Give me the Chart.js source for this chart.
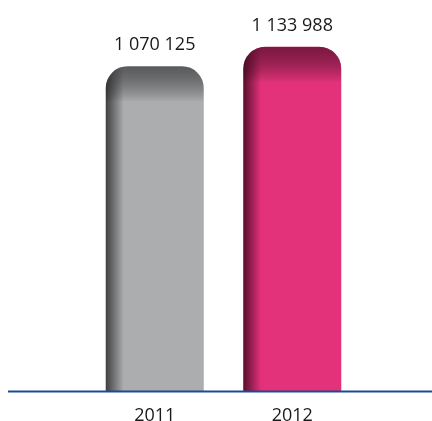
<!DOCTYPE html>
<html>
<head>
<meta charset="utf-8">
<script src="https://cdn.jsdelivr.net/npm/chart.js@4"></script>
<style>
  html, body { margin: 0; padding: 0; background: #fff; }
  #wrap { width: 432px; height: 421px; }
</style>
</head>
<body>
<div id="wrap"><canvas id="chart"></canvas></div>
<script>
const years = ['2011', '2012'];
const values = [1070125, 1133988];
const labels = ['1 070 125', '1 133 988'];
const mainColors = ['#acadaf', '#e3327a'];
const darkColors = ['#3f3f41', '#5a0f2e'];
const barPct = 0.713;

// horizontal shading on the left side of each bar
function barFill(context) {
    const chart = context.chart;
    const xs = chart.scales.x;
    const i = context.dataIndex;
    if (!xs || i === undefined) return mainColors[0];
    const step = xs.getPixelForValue(1) - xs.getPixelForValue(0);
    const left = xs.getPixelForValue(i) - step * barPct / 2;
    if (!isFinite(left) || !isFinite(step)) return mainColors[i];
    const g = chart.ctx.createLinearGradient(left, 0, left + 18, 0);
    g.addColorStop(0, darkColors[i]);
    g.addColorStop(1, mainColors[i]);
    return g;
}

// darken the top of each bar and write the value above it
const barDecor = {
    id: 'barDecor',
    afterDatasetsDraw(chart) {
        const ctx = chart.ctx;
        chart.getDatasetMeta(0).data.forEach((el, i) => {
            const left = el.x - el.width / 2;
            const top = el.y;
            const r = 22;
            ctx.save();
            ctx.beginPath();
            ctx.moveTo(left, el.base);
            ctx.lineTo(left, top + r);
            ctx.arcTo(left, top, left + r, top, r);
            ctx.lineTo(left + el.width - r, top);
            ctx.arcTo(left + el.width, top, left + el.width, top + r, r);
            ctx.lineTo(left + el.width, el.base);
            ctx.closePath();
            ctx.clip();
            const g = ctx.createLinearGradient(0, top, 0, top + 36);
            g.addColorStop(0, darkColors[i]);
            g.addColorStop(1, 'rgba(0,0,0,0)');
            ctx.globalAlpha = 0.75;
            ctx.fillStyle = g;
            ctx.fillRect(left, top, el.width, 36);
            ctx.restore();

            ctx.save();
            ctx.fillStyle = '#1a1a1a';
            ctx.font = '18px "Open Sans"';
            ctx.textAlign = 'center';
            ctx.textBaseline = 'bottom';
            ctx.fillText(labels[i], el.x, top - 12);
            ctx.restore();
        });
        // baseline
        const y = chart.chartArea.bottom;
        ctx.save();
        ctx.strokeStyle = '#1c4a94';
        ctx.lineWidth = 2;
        ctx.beginPath();
        ctx.moveTo(8, y);
        ctx.lineTo(chart.width, y);
        ctx.stroke();
        ctx.restore();
    }
};

new Chart(document.getElementById('chart'), {
    type: 'bar',
    data: {
        labels: years,
        datasets: [{
            data: values,
            backgroundColor: barFill,
            borderRadius: { topLeft: 22, topRight: 22, bottomLeft: 0, bottomRight: 0 },
            borderSkipped: 'bottom',
            barPercentage: barPct,
            categoryPercentage: 1
        }]
    },
    options: {
        responsive: true,
        maintainAspectRatio: false,
        animation: false,
        layout: { padding: { top: 10, left: 86, right: 71, bottom: -20 } },
        plugins: {
            legend: { display: false },
            tooltip: { enabled: false }
        },
        scales: {
            x: {
                grid: { display: false, drawTicks: false },
                border: { display: false },
                ticks: { color: '#1a1a1a', font: { family: 'Open Sans', size: 18 }, padding: 14 }
            },
            y: {
                display: false,
                min: 0,
                max: 1255000
            }
        }
    },
    plugins: [barDecor]
});
</script>
</body>
</html>
